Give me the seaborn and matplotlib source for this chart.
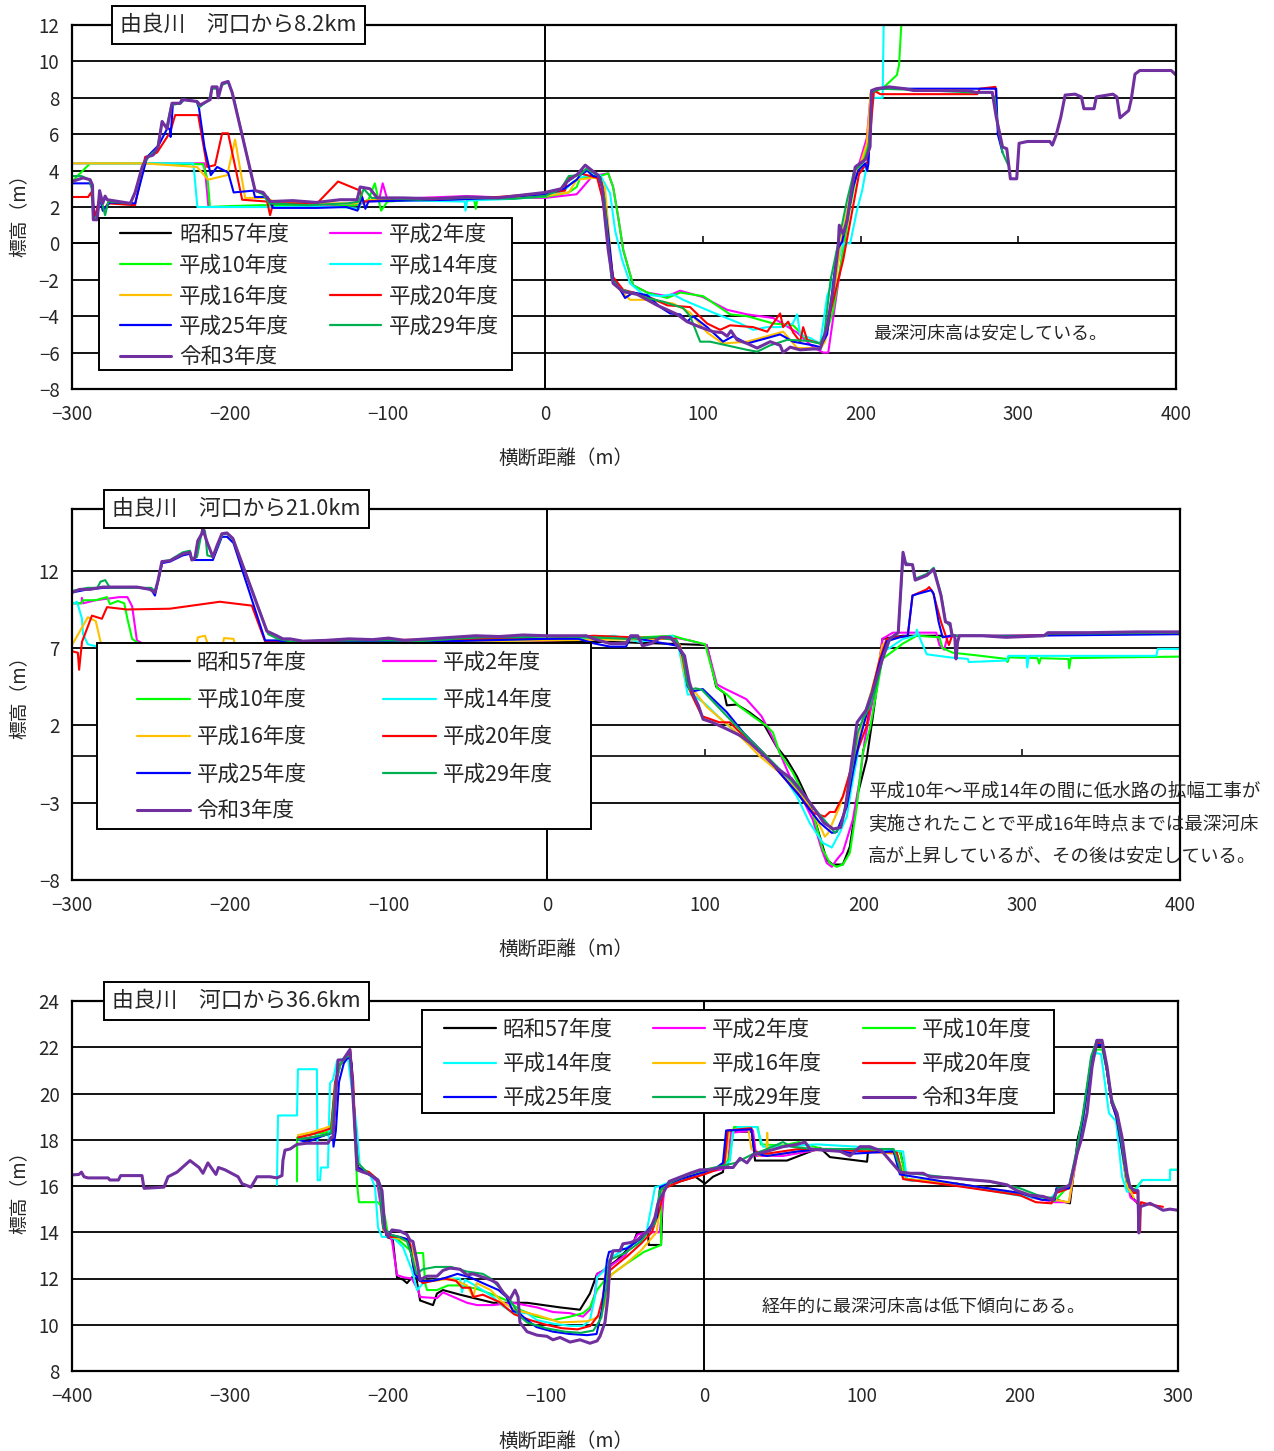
import matplotlib
matplotlib.use("Agg")
import matplotlib.pyplot as plt
from matplotlib.lines import Line2D
from matplotlib.patches import Rectangle
import pandas as pd
import seaborn as sns

# ---------------------------------------------------------------- series
SERIES = ["昭和57年度", "平成2年度", "平成10年度", "平成14年度", "平成16年度",
          "平成20年度", "平成25年度", "平成29年度", "令和3年度"]
COLORS = ["#000000", "#FF00FF", "#00FF00", "#00FFFF", "#FFC000",
          "#FF0000", "#0000FF", "#00B050", "#7030A0"]

# ---------------------------------------------------------------- 8.2 km
P1_S57 = []
P1_H2 = [(-300, 4.4), (-216, 4.4), (-213.5, 2.0), (-180, 2.0), (-150, 2.0), (-120, 2.1), (-105, 2.5),
         (-103, 3.3), (-100, 2.4), (-80, 2.5), (-50, 2.6), (-20, 2.5), (0, 2.5), (20, 2.7), (25, 3.2),
         (30, 3.7), (40, 3.85), (43.1, 3.1), (46.3, 1.45), (49.5, -0.35), (55.8, -2.3), (64.7, -2.7),
         (77.4, -2.9), (85.6, -2.6), (100, -2.95), (115.4, -3.65), (128.1, -3.9), (144.6, -4.1),
         (159.8, -4.9), (169.9, -5.7), (176.3, -6.0), (179.5, -6.0), (185.2, -2.55), (189, -0.35),
         (191.5, 1.45), (195.3, 3.1), (198.5, 4.2), (204, 5.8), (206.5, 8.3), (210, 8.4)]
P1_H10 = [(-300, 3.4), (-288.5, 4.4), (-250, 4.4), (-217, 4.35), (-214, 3.5), (-212.5, 2.0), (-200, 2.05),
          (-180, 2.1), (-160, 2.1), (-140, 2.0), (-120, 2.1), (-112, 2.4), (-108, 3.3), (-104, 1.8),
          (-100, 2.3), (-80, 2.4), (-60, 2.5), (-45, 2.4), (-44, 1.9), (-43, 2.45), (-20, 2.5), (0, 2.55),
          (15, 2.8), (20, 3.1), (22.2, 3.6), (34.9, 3.7), (40, 3.85), (43.1, 3.1), (46.3, 1.45),
          (49.5, -0.35), (55.8, -2.3), (64.7, -2.7), (77.4, -3.0), (85.6, -2.7), (100.2, -2.9),
          (117.3, -3.9), (128.1, -4.0), (144.6, -4.4), (157.3, -4.5), (166.1, -5.3), (174.4, -5.5),
          (177, -5.3), (182.6, -3.7), (189, -0.35), (193.4, 2.0), (197.8, 4.0), (201.6, 4.6), (205, 5.5),
          (206.5, 8.2), (215, 8.6), (223, 9.25), (224.4, 9.8), (225.7, 11.8), (226.5, 13.0)]
P1_H14 = [(-300, 4.4), (-223, 4.4), (-220.5, 2.0), (-175, 2.0), (-130, 2.0), (-118, 1.9), (-117, 2.3),
          (-100, 2.4), (-80, 2.35), (-51, 2.3), (-50.5, 1.8), (-49.5, 2.35), (-20, 2.45), (0, 2.6),
          (12, 2.9), (18, 3.4), (25, 3.7), (34.9, 3.75), (41.2, 2.75), (44.4, 0.7), (48.8, -0.9),
          (53.9, -2.2), (62.1, -2.8), (72.9, -2.9), (81.1, -2.8), (87.5, -3.1), (106.5, -3.8),
          (123.7, -4.4), (131.9, -4.75), (140.8, -4.6), (149, -4.6), (157, -4.4), (159.8, -3.9),
          (161.7, -5.0), (168, -5.2), (174.4, -5.5), (178.8, -2.9), (182.6, -2.0), (189, 0.0),
          (193.4, 0.0), (197.8, 1.85), (201, 2.9), (204.2, 4.4), (207, 8.0), (214, 8.0), (214.6, 11.8),
          (215, 13.0)]
P1_H16 = [(-300, 4.4), (-255, 4.4), (-220.7, 4.2), (-213.7, 3.5), (-201.6, 3.75), (-196.6, 5.7),
          (-190.2, 2.5), (-176.3, 2.5), (-172, 2.3), (-150, 2.2), (-120, 2.2), (-110, 2.4), (-90, 2.4),
          (-60, 2.5), (-30, 2.5), (0, 2.6), (15, 2.8), (20, 3.5), (30, 3.6), (35, 3.6), (38, 3.0),
          (40, 1.0), (43.1, -2.2), (53.9, -3.1), (64.7, -3.1), (81.1, -3.3), (91.9, -3.8),
          (102.7, -4.9), (112.8, -5.5), (128.1, -5.4), (140.8, -5.1), (150.9, -4.85), (155.4, -5.3),
          (159.8, -5.75), (168, -5.75), (174.4, -5.8), (177.5, -5.4), (184, -2.2), (188, 0.35),
          (192, 2.0), (196, 3.8), (200, 4.4), (204, 5.5), (206.5, 8.3), (208, 8.4)]
P1_H20 = [(-300, 2.55), (-289.8, 2.55), (-287.9, 2.8), (-285.4, 1.45), (-282.2, 2.65), (-280.3, 1.8),
          (-277.1, 2.2), (-260, 2.1), (-253.6, 4.75), (-249.2, 4.85), (-246, 5.0), (-237.8, 6.1),
          (-234.6, 7.05), (-220, 7.05), (-214.3, 4.2), (-209.3, 4.3), (-204.8, 6.05), (-201, 6.05),
          (-192.1, 2.4), (-176.3, 2.3), (-174.4, 1.55), (-172.5, 2.2), (-144.6, 2.2), (-131.3, 3.4),
          (-117.3, 2.9), (-115.4, 2.3), (-90, 2.4), (-60, 2.5), (-30, 2.55), (-3, 2.73), (12.6, 2.9),
          (14, 3.55), (22.2, 3.85), (33, 3.6), (36.1, 2.55), (39.3, 0.55), (43.1, -1.85), (49.5, -2.55),
          (64.7, -2.9), (77.4, -3.4), (91.9, -3.5), (102.7, -4.4), (111, -4.75), (117.3, -4.5),
          (131.9, -4.6), (140.8, -4.85), (149, -3.85), (150.9, -4.6), (154.1, -4.3), (157.3, -4.9),
          (161.7, -5.4), (163.6, -4.6), (166.1, -5.3), (174.4, -5.5), (177.5, -5.0), (183.6, -2.8),
          (189, -0.9), (194, 1.45), (199, 3.8), (204.6, 4.5), (208.5, 8.4), (212.5, 8.2), (274, 8.2),
          (275.6, 8.5), (285.5, 8.6), (286, 8.0)]
P1_H25 = [(-300, 3.3), (-288.5, 3.3), (-287, 3.0), (-286, 1.4), (-284, 1.4), (-282.5, 2.6), (-280.5, 1.8),
          (-276, 2.25), (-260, 2.2), (-252.4, 4.75), (-245, 5.4), (-239.7, 6.3), (-238, 6.3),
          (-237.5, 5.85), (-236, 7.7), (-231, 7.7), (-229, 7.9), (-221, 7.8), (-219.5, 7.45),
          (-216, 5.3), (-212, 3.75), (-208, 4.2), (-201, 3.9), (-197.5, 2.8), (-185, 2.9), (-184, 2.55),
          (-176, 2.55), (-172.5, 1.95), (-144.6, 1.95), (-126, 2.0), (-119, 1.8), (-116, 2.55),
          (-114, 1.9), (-112, 2.3), (-90, 2.35), (-60, 2.4), (-30, 2.5), (0, 2.7), (12, 3.0), (20, 3.5),
          (22.2, 3.75), (26.6, 4.0), (30.4, 3.7), (34.9, 3.65), (36.8, 2.9), (40, 0.55), (43.1, -2.0),
          (47.6, -2.55), (50.7, -3.0), (55.8, -2.7), (64.7, -2.85), (72.9, -3.5), (79.3, -3.85),
          (85.6, -3.9), (90, -4.3), (93.8, -4.0), (102.7, -4.6), (112.8, -5.4), (119.2, -5.1),
          (128.1, -5.5), (140.8, -5.2), (149, -5.0), (157.3, -5.4), (169.9, -5.6), (174.4, -5.7),
          (178.8, -5.0), (185.2, -0.35), (188.3, 0.1), (191.5, 1.3), (195.3, 3.1), (198.5, 4.0),
          (202.9, 4.4), (204.2, 4.0), (205, 4.4), (207, 8.4), (212, 8.5), (270, 8.5), (286, 8.5),
          (287, 6.0), (290, 5.0)]
P1_H29 = [(-300, 3.7), (-294, 3.7), (-289, 3.5), (-287.5, 3.0), (-286.5, 1.3), (-284, 1.5), (-282, 2.6),
          (-279, 1.55), (-277, 2.3), (-263, 2.2), (-259, 3.0), (-255, 4.3), (-251, 4.8), (-246, 5.2),
          (-243, 6.6), (-240, 6.4), (-237, 7.6), (-231, 7.7), (-229, 7.9), (-221, 7.8), (-219, 7.5),
          (-213, 7.9), (-211.5, 8.5), (-208, 8.5), (-207.5, 8.1), (-205, 8.7), (-201, 8.85), (-198, 8.2),
          (-184, 2.9), (-179, 2.7), (-175, 2.2), (-150, 2.1), (-125, 2.2), (-118, 2.3), (-115, 3.0),
          (-110, 2.5), (-80, 2.4), (-50, 2.5), (-20, 2.45), (0, 2.6), (10, 3.0), (15, 3.7), (22, 3.75),
          (26, 4.1), (32, 3.8), (35, 3.6), (37.5, 2.5), (39.5, 0.5), (42, -1.9), (47, -2.5),
          (58.3, -2.8), (64.7, -3.0), (74.8, -3.2), (87.5, -3.55), (91.9, -4.0), (98.3, -5.4),
          (104.6, -5.4), (128.1, -5.85), (134.4, -5.95), (142.7, -5.6), (153.5, -5.3), (166.1, -5.35),
          (174.4, -5.5), (177, -5.0), (181, -2.0), (187.1, 0.55), (191.5, 2.4), (196, 4.0), (201, 4.4),
          (204, 4.8), (206, 6.0), (207, 8.3), (212, 8.5), (230, 8.45), (270, 8.3), (283, 8.3),
          (285, 8.0), (287, 6.5), (290, 5.0), (293.6, 4.3)]
P1_R3 = [(-300, 3.4), (-293, 3.6), (-288.5, 3.5), (-287, 3.2), (-286.5, 1.3), (-284, 1.3), (-282.5, 2.9),
         (-280.5, 2.2), (-279, 2.6), (-277.7, 2.4), (-263, 2.2), (-260, 2.8), (-255.5, 4.2),
         (-252.4, 4.75), (-248.6, 4.85), (-245.4, 5.3), (-242.9, 6.7), (-239.7, 6.3), (-236.6, 7.7),
         (-231.5, 7.7), (-230.3, 7.9), (-220.7, 7.8), (-218.8, 7.6), (-212.4, 7.9), (-211.2, 8.6),
         (-208, 8.6), (-207.3, 8.0), (-204.8, 8.8), (-201, 8.9), (-198.5, 8.3), (-183.9, 2.9),
         (-178.8, 2.8), (-174.4, 2.3), (-160, 2.35), (-145, 2.25), (-130, 2.4), (-119.2, 2.4),
         (-117.3, 3.1), (-111, 3.0), (-106.5, 2.5), (-90, 2.5), (-70, 2.45), (-50, 2.55), (-30, 2.5),
         (-10, 2.7), (0, 2.8), (10, 3.0), (14, 3.4), (20.5, 3.8), (25.4, 4.3), (29.8, 4.0), (33.6, 3.75),
         (36.1, 3.1), (38, 1.3), (40, -0.35), (43.1, -2.2), (49.5, -2.65), (58.3, -2.8), (64.7, -3.1),
         (71, -3.4), (77.4, -3.65), (83.7, -3.9), (90, -4.3), (98.3, -4.6), (106.5, -4.85),
         (112.2, -4.9), (115.4, -5.1), (117.8, -4.8), (121.7, -5.3), (128.1, -5.5), (134.4, -5.75),
         (142.7, -5.4), (149, -5.6), (150.9, -6.0), (155.4, -5.7), (161.7, -5.85), (169.9, -5.8),
         (174.4, -5.8), (178.8, -4.6), (182.6, -2.55), (185.8, -0.2), (186.5, 1.0), (189, 0.5),
         (191.5, 1.3), (193.4, 2.4), (196.6, 4.2), (199.7, 4.4), (203, 4.6), (206, 5.3), (207, 8.4),
         (210, 8.5), (218, 8.6), (228, 8.5), (233.5, 8.4), (268, 8.4), (273, 8.3), (283.5, 8.3),
         (286, 6.95), (290, 5.3), (292.7, 5.2), (295, 3.55), (299, 3.55), (300.5, 5.5), (305.8, 5.6),
         (320, 5.6), (321.6, 5.4), (324, 5.95), (327, 6.95), (329.7, 8.15), (336, 8.2), (340, 8.05),
         (341.6, 7.4), (348, 7.4), (349.5, 8.05), (360, 8.2), (362.5, 8.05), (364.5, 6.9), (370, 7.3),
         (371.6, 7.9), (374, 9.3), (377, 9.5), (397, 9.5), (400, 9.25)]

# ---------------------------------------------------------------- 21.0 km
P2_S57 = [(-160, 7.3), (-100, 7.35), (-50, 7.4), (0, 7.4), (40, 7.4), (84, 7.26), (101, 7.2), (107, 4.5),
          (112, 4.1), (113.7, 3.3), (120, 3.35), (128, 2.85), (136.4, 2.2), (145, 0.65), (151.6, -0.2),
          (158, -1.3), (164, -2.6), (168, -3.65), (172.5, -5.2), (176.8, -6.7), (180.7, -7.0),
          (187, -7.0), (191.4, -5.85), (196.5, -2.4), (202, -0.2), (206, 2.6), (208.5, 4.5),
          (212, 7.6), (225, 7.8), (250, 7.8)]
P2_H2 = [(-300, 9.9), (-294, 9.9), (-293.7, 10.25), (-293, 9.9), (-285, 10.1), (-270, 10.3), (-265, 10.3),
         (-262, 9.7), (-259, 7.5), (-250, 7.0), (-200, 7.0), (-150, 7.2), (-100, 7.3), (-50, 7.4),
         (0, 7.5), (40, 7.6), (79.6, 7.7), (90, 7.5), (101, 7.2), (107.4, 4.66), (111, 4.45),
         (126, 3.7), (135.6, 2.6), (141, 1.55), (147, 0.25), (153.5, -1.3), (161.7, -2.8),
         (168, -4.1), (173.7, -6.05), (176.8, -6.9), (180, -7.15), (183, -6.7), (187, -6.2),
         (193.3, -4.1), (197.7, -1.5), (200.9, 1.1), (206, 3.7), (209, 5.2), (212, 7.6), (218.6, 8.0),
         (246, 8.0), (248, 7.2), (251, 6.9), (253, 7.7), (258, 7.8)]
P2_H10 = [(-300, 9.9), (-294, 9.9), (-293, 10.1), (-285, 10.1), (-277.9, 10.3), (-276, 9.85),
          (-271, 10.05), (-267, 9.9), (-265, 8.9), (-262, 7.6), (-255, 7.1), (-240, 7.0), (-200, 7.0),
          (-160, 7.2), (-120, 7.3), (-80, 7.4), (-40, 7.5), (0, 7.55), (40, 7.6), (79.6, 7.8),
          (86, 7.6), (100, 7.25), (107.4, 4.45), (113.7, 4.0), (122, 3.2), (130, 2.6), (139, 1.95),
          (142.8, 1.55), (147, 0.25), (155.4, -1.05), (161.7, -2.35), (168, -3.65), (174.4, -6.05),
          (178.8, -6.9), (183, -7.15), (187, -7.0), (191.4, -6.25), (195.8, -3.25), (199.6, 0.25),
          (204, 1.75), (212, 6.3), (218.6, 6.8), (225, 7.3), (233.7, 7.8), (248, 7.7), (250, 7.0),
          (256.5, 6.7), (270, 6.55), (290.6, 6.3), (291, 6.1), (292, 6.4), (310, 6.35), (311, 6.0),
          (312, 6.35), (329.5, 6.3), (330, 5.7), (331, 6.35), (360, 6.4), (400, 6.45)]
P2_H14 = [(-300, 9.85), (-296.8, 10.0), (-293.7, 8.9), (-293, 7.9), (-290, 7.25), (-280, 7.0),
          (-240, 6.9), (-200, 6.9), (-160, 7.1), (-120, 7.2), (-80, 7.3), (-40, 7.4), (0, 7.55),
          (42.7, 7.8), (58.7, 7.4), (79.6, 7.8), (82.8, 7.3), (86, 5.6), (89, 4.0), (92, 4.0),
          (100, 3.4), (110, 2.4), (122, 1.3), (134.6, 0.45), (147, -0.85), (158, -2.6), (166, -4.3),
          (174.4, -5.6), (180, -5.9), (185, -4.95), (189.5, -3.9), (192.5, -2.0), (195.8, -0.2),
          (199.6, 2.4), (206, 4.5), (212, 6.7), (225, 7.6), (233, 7.8), (233.7, 8.2), (235, 7.8),
          (240, 6.6), (254.6, 6.4), (266, 6.3), (266.5, 6.1), (290.6, 6.2), (291.5, 6.5), (303, 6.5),
          (303.5, 5.75), (304.5, 6.5), (385, 6.5), (386, 6.95), (400, 6.95)]
P2_H16 = [(-300, 7.2), (-290, 9.0), (-285, 8.75), (-281, 7.0), (-270, 6.8), (-222, 6.8), (-220.5, 7.7),
          (-216, 7.8), (-213, 6.9), (-205, 7.0), (-204, 7.65), (-198, 7.6), (-196, 6.9), (-160, 7.0),
          (-120, 7.2), (-80, 7.35), (-40, 7.45), (0, 7.5), (40, 7.55), (80, 7.6), (84, 7.2), (86, 5.8),
          (88.4, 4.8), (94.8, 4.0), (101, 3.2), (117.5, 1.75), (126, 0.9), (134.6, 0.0), (147, -1.05),
          (160, -2.35), (168, -3.65), (173.7, -4.75), (175.6, -5.2), (177.5, -5.0), (180.7, -4.25),
          (185, -3.25), (193.3, -0.6), (198, 1.5), (203, 3.5), (208, 5.3), (212, 7.2), (216, 7.6)]
P2_H20 = [(-300, 6.8), (-296.3, 6.7), (-295.5, 5.6), (-293.7, 7.4), (-287.4, 9.1), (-281.1, 8.9),
          (-277.9, 9.65), (-265.3, 9.5), (-238.2, 9.55), (-206.6, 10.0), (-186.4, 9.75), (-178.1, 7.45),
          (-160, 7.4), (-120, 7.5), (-80, 7.55), (-40, 7.6), (0, 7.6), (29.5, 7.8), (54.5, 7.7),
          (81, 7.6), (84, 7.15), (86, 6.3), (89, 4.55), (93.5, 3.55), (98, 2.6), (109, 2.2),
          (115.6, 2.2), (122, 1.55), (130, 0.9), (139, 0.0), (147, -1.05), (160, -2.6), (168, -3.65),
          (175.6, -3.9), (178.8, -3.6), (182, -3.6), (187, -2.6), (191.4, -1.05), (195.8, 0.25),
          (202, 1.95), (206, 4.5), (210.4, 6.3), (214.8, 7.6), (221, 7.7), (228, 7.8), (231, 10.4),
          (240, 10.8), (241.5, 10.95), (244, 10.6), (249, 8.7), (252, 7.8), (254, 7.2), (256, 7.8),
          (260.6, 7.8), (290, 7.8), (320, 7.85), (350, 7.9), (400, 7.95)]
P2_H25 = [(-300, 10.6), (-290, 10.8), (-280, 10.9), (-260, 10.95), (-250, 10.8), (-247.6, 10.4),
          (-245.7, 11.3), (-243, 12.5), (-238, 12.6), (-230, 13.0), (-225.5, 13.1), (-224.3, 12.7),
          (-211, 12.7), (-205.3, 14.2), (-202, 14.2), (-198, 13.8), (-178, 7.5), (-170, 7.5),
          (-160, 7.3), (-120, 7.4), (-80, 7.4), (-40, 7.5), (0, 7.6), (20, 7.6), (30, 7.3), (39.8, 7.1),
          (50, 7.1), (53, 7.7), (82.5, 7.15), (87, 6.3), (89, 4.55), (92, 4.2), (98.5, 4.35),
          (113.7, 2.85), (124, 1.55), (136.4, 0.25), (147, -1.05), (158, -2.35), (166, -3.45),
          (172.5, -4.3), (180, -4.95), (183, -4.9), (189.5, -3.25), (193.3, -1.05), (197.7, 1.1),
          (204, 3.5), (210.4, 6.1), (214.8, 7.45), (223, 7.7), (228, 7.8), (231, 10.4), (234, 10.5),
          (242.8, 10.75), (244.4, 10.5), (247.5, 8.7), (250, 7.7), (254.7, 7.8), (300, 7.8),
          (350, 7.85), (400, 7.9)]
P2_H29 = [(-300, 10.7), (-290, 10.9), (-284, 10.9), (-282, 11.3), (-279, 11.4), (-276, 10.9), (-260, 10.9),
          (-250, 10.9), (-247.6, 10.7), (-245.5, 11.4), (-243, 12.6), (-238, 12.7), (-230, 13.2),
          (-225.5, 13.3), (-224.5, 12.8), (-221, 12.9), (-219, 14.0), (-217.5, 14.7), (-216, 14.6),
          (-214.5, 13.0), (-211, 12.9), (-208, 13.6), (-205, 14.35), (-202, 14.4), (-198, 14.0),
          (-176, 7.9), (-170, 7.6), (-160, 7.4), (-140, 7.5), (-120, 7.5), (-100, 7.5), (-80, 7.45),
          (-60, 7.6), (-40, 7.7), (-20, 7.7), (0, 7.75), (30, 7.7), (50, 7.6), (70, 7.7), (82, 7.5),
          (86, 6.5), (88.4, 4.8), (90.3, 4.3), (94, 4.4), (98, 4.3), (113.7, 2.6), (128, 1.1),
          (142.8, -0.4), (155.4, -1.7), (168, -3.25), (176.8, -4.3), (182, -4.95), (186, -4.5),
          (190, -2.5), (196.5, 1.55), (199.6, 2.4), (204, 3.2), (208, 4.5), (212, 6.3), (217, 7.6),
          (222, 8.0), (225, 12.8), (227, 12.5), (231, 12.4), (233, 11.5), (240, 11.8), (244.4, 12.2),
          (249, 10.5), (252, 8.7), (255, 8.4), (256.5, 7.8), (270, 7.8), (300, 7.75), (315, 7.8),
          (317, 7.95), (350, 7.95), (400, 8.0)]
P2_R3 = [(-300, 10.6), (-295, 10.8), (-288.7, 10.8), (-280.5, 10.95), (-269.7, 10.95), (-259, 10.95),
         (-250.8, 10.8), (-247.6, 10.6), (-245.7, 11.35), (-243.2, 12.6), (-238.1, 12.65),
         (-229.9, 13.1), (-225.5, 13.2), (-224.3, 12.7), (-222.4, 12.8), (-220.5, 13.95), (-218, 14.4),
         (-217.3, 14.7), (-214.8, 13.9), (-211, 12.9), (-208.5, 13.6), (-205.3, 14.4), (-202.1, 14.45),
         (-198.4, 14.1), (-176.9, 8.1), (-170.6, 7.8), (-166.8, 7.6), (-162.3, 7.6), (-154.1, 7.45),
         (-140, 7.5), (-125, 7.6), (-110, 7.55), (-100, 7.65), (-90, 7.5), (-75, 7.6), (-60, 7.7),
         (-45, 7.8), (-30, 7.75), (-15, 7.85), (0, 7.8), (25, 7.8), (29.5, 7.6), (39.8, 7.3), (50, 7.3),
         (53, 7.8), (57.4, 7.8), (60.4, 7.15), (66, 7.3), (72, 7.7), (78, 7.7), (82.5, 7.15), (87, 6.5),
         (90, 4.8), (92.8, 3.9), (95.7, 3.3), (98.7, 2.4), (104.5, 2.2), (113, 1.8), (122, 1.35),
         (128, 0.9), (137, 0.05), (145.8, -0.8), (154.6, -1.45), (163, -2.55), (169, -3.4), (175, -4.3),
         (181, -4.7), (185.5, -4.6), (188.5, -3.4), (191.4, -1.25), (196, 2.2), (201.7, 3.0),
         (206, 4.3), (212, 6.3), (216.5, 7.6), (222, 8.0), (225, 13.2), (226.8, 12.4), (231, 12.4),
         (232.7, 11.4), (240, 11.7), (244.4, 12.1), (249, 10.4), (251.8, 8.7), (254.7, 8.6), (256, 7.8),
         (257.7, 7.8), (258.5, 6.3), (259.5, 7.4), (260.6, 7.8), (275, 7.8), (290, 7.7), (314, 7.8),
         (316.6, 8.0), (343, 8.0), (373, 8.05), (400, 8.05)]

# ---------------------------------------------------------------- 36.6 km
P3_S57 = [(-257, 18.0), (-240, 18.2), (-236, 18.3), (-233, 20.5), (-230, 21.3), (-226, 21.6), (-224, 21.8),
          (-222, 20.0), (-220, 17.5), (-218, 16.7), (-212, 16.5), (-207, 16.3), (-204, 15.5),
          (-201, 13.8), (-197, 13.7), (-194.3, 12.05), (-190.5, 11.95), (-188, 11.8), (-184.8, 12.05),
          (-182, 12.0), (-179.7, 11.05), (-171.5, 10.85), (-169, 11.35), (-165.2, 11.5), (-154.4, 11.3),
          (-133.5, 10.95), (-112, 10.95), (-91.1, 10.75), (-78.5, 10.65), (-72.2, 11.35),
          (-67.7, 12.2), (-64.6, 12.3), (-55, 12.8), (-45, 13.5), (-42.4, 13.97), (-35.4, 13.97),
          (-35, 13.45), (-27.2, 13.45), (-25.9, 15.95), (-15, 16.2), (-5.7, 16.4), (-4.4, 16.35),
          (0.6, 16.1), (5.7, 16.4), (12, 16.6), (14.6, 18.35), (30.4, 18.35), (32.3, 17.1),
          (52.5, 17.1), (73.4, 17.65), (79.7, 17.25), (103.2, 17.05), (103.8, 17.5), (124.1, 17.5),
          (128.5, 16.26), (160.1, 16.1), (200, 15.65), (223.4, 15.4), (231.6, 15.25), (236.7, 18.1),
          (240, 19.0), (245, 21.3), (248.5, 22.2), (252, 22.2), (255, 21.0), (258, 19.6), (261, 19.1),
          (264, 18.0), (267, 16.5), (270, 15.6), (275, 15.2)]
P3_H2 = [(-257, 18.0), (-240, 18.2), (-236, 18.4), (-233, 20.5), (-230, 21.3), (-226, 21.6), (-224, 21.8),
         (-222, 20.0), (-220, 17.5), (-218, 16.7), (-212, 16.5), (-207, 16.2), (-205, 15.3),
         (-203, 14.1), (-199, 13.8), (-197.5, 13.65), (-194.3, 12.15), (-190, 12.05), (-185, 12.0),
         (-180.9, 11.5), (-179.7, 11.2), (-169, 11.15), (-165.2, 11.4), (-150, 10.95), (-143.7, 10.85),
         (-133.5, 10.85), (-120.9, 10.95), (-105.7, 10.75), (-95.6, 10.55), (-84.8, 10.5),
         (-76.6, 10.35), (-72.2, 10.65), (-69, 11.35), (-67.7, 12.2), (-62, 12.4), (-50, 13.0),
         (-42, 13.9), (-36, 14.0), (-28, 14.0), (-25, 15.9), (-15, 16.3), (0, 16.6), (10, 16.7),
         (15, 16.8), (17, 18.3), (31, 18.4), (33, 17.3), (50, 17.3), (75, 17.6), (100, 17.5),
         (122, 17.4), (127, 16.3), (160, 16.1), (200, 15.6), (222, 15.3), (231, 15.3), (236, 17.3),
         (240, 18.9), (245, 21.5), (248.5, 22.2), (252, 22.2), (255, 21.0), (258, 19.6), (261, 19.0),
         (264, 17.8), (267, 16.3), (270, 15.5), (274, 15.3)]
P3_H10 = [(-257.6, 16.2), (-257.5, 18.1), (-254.5, 18.1), (-252, 18.2), (-240, 18.3), (-236, 18.4),
          (-233, 20.5), (-230, 21.3), (-226, 21.5), (-224, 21.6), (-222, 20.0), (-221, 18.4),
          (-219.6, 16.1), (-218.4, 15.3), (-206.3, 15.3), (-203.8, 15.1), (-201.9, 14.65), (-200, 13.9),
          (-194, 13.7), (-190.5, 13.5), (-184.2, 13.1), (-177.8, 13.1), (-176.5, 11.8), (-175.3, 11.5),
          (-169, 11.5), (-162, 11.7), (-154.4, 11.7), (-143.7, 11.55), (-133.5, 11.3), (-124.7, 11.05),
          (-116.5, 10.65), (-105.7, 10.35), (-95.6, 10.2), (-84.8, 10.35), (-76.6, 10.5),
          (-72.2, 10.75), (-67.7, 11.5), (-62, 12.0), (-50, 12.6), (-38, 13.15), (-27.2, 13.45),
          (-27, 15.95), (-15, 16.3), (0, 16.6), (12, 16.8), (16, 17.2), (19, 18.55), (34, 18.55),
          (36, 17.8), (50, 17.75), (60, 17.9), (75, 17.6), (100, 17.6), (124, 17.5), (128, 16.3),
          (160, 16.1), (200, 15.6), (222, 15.35), (228, 15.8), (232, 16.0), (236, 17.5), (240, 19.0),
          (245, 21.2), (248.5, 21.9), (252, 21.9), (255, 21.0), (258, 19.6), (261, 19.0), (264, 17.8),
          (268, 15.9), (272, 15.8), (277.5, 16.26), (294.9, 16.26), (295, 16.7), (300, 16.7)]
P3_H14 = [(-270.3, 16.05), (-269.6, 19.05), (-257.6, 19.05), (-257, 21.05), (-245, 21.05), (-244.5, 16.25),
          (-243, 16.25), (-242.4, 16.8), (-238, 16.8), (-236.7, 20.45), (-234.8, 20.6), (-232.3, 21.4),
          (-228.5, 21.5), (-225.3, 21.5), (-222.2, 19.8), (-219.6, 18.4), (-217.7, 16.7), (-211.4, 16.5),
          (-208.2, 15.95), (-206.3, 14.2), (-203.8, 13.8), (-198.7, 13.8), (-195.6, 13.7),
          (-190.5, 13.35), (-184.8, 12.35), (-181.6, 11.5), (-177.8, 11.8), (-173.4, 11.9),
          (-165.2, 12.0), (-154.4, 12.0), (-153.2, 11.4), (-151.3, 11.95), (-143.7, 11.65),
          (-133.5, 11.2), (-127.2, 10.8), (-120.9, 10.5), (-112, 10.5), (-105.7, 10.2), (-95.6, 10.05),
          (-84.8, 9.95), (-76.6, 9.95), (-72.2, 10.2), (-69, 11.2), (-67.7, 12.05), (-63.9, 12.3),
          (-57.6, 12.95), (-48.7, 13.35), (-40.5, 13.65), (-36.1, 14.1), (-32.9, 15.25), (-31, 15.95),
          (-27.8, 16.0), (-10, 16.5), (2, 16.7), (12, 16.85), (16.5, 17.1), (18.4, 18.35), (21.5, 18.55),
          (33.5, 18.55), (35.4, 18.1), (37.3, 17.7), (50, 17.7), (71.5, 17.8), (96.8, 17.7),
          (117.7, 17.5), (126, 17.5), (128.5, 16.26), (138.6, 16.2), (160, 16.05), (181, 15.8),
          (198.1, 15.6), (214.6, 15.45), (219, 15.4), (223.4, 15.8), (231.6, 15.95), (236, 17.5),
          (240, 19.0), (245.6, 21.6), (248.7, 21.75), (251.3, 21.7), (256.3, 19.15), (260.8, 18.8),
          (264.6, 16.4), (267.7, 15.75), (273, 15.8), (277.5, 16.26), (294.9, 16.26), (295, 16.7),
          (300, 16.7)]
P3_H16 = [(-257, 18.2), (-250, 18.3), (-240, 18.5), (-236, 18.6), (-233, 20.5), (-230, 21.3), (-226, 21.5),
          (-224, 21.7), (-222, 20.0), (-220, 17.5), (-218, 16.7), (-212, 16.6), (-207, 16.3),
          (-205, 15.8), (-203, 14.1), (-198, 13.8), (-192, 13.7), (-188, 13.6), (-185, 13.4),
          (-182, 12.2), (-180, 11.9), (-170, 11.9), (-160, 12.0), (-150, 11.7), (-146, 11.2),
          (-144, 11.8), (-135, 11.5), (-128, 11.0), (-120, 10.65), (-105, 10.4), (-91.1, 10.1),
          (-74.1, 10.15), (-65.8, 10.35), (-62.7, 10.9), (-61.4, 11.8), (-58, 12.2), (-50, 12.6),
          (-40, 13.2), (-30, 14.0), (-27, 15.5), (-25, 16.0), (-15, 16.3), (0, 16.6), (10, 16.8),
          (14, 17.2), (16, 18.4), (28, 18.5), (30, 17.6), (35, 17.3), (39.5, 17.4), (40, 18.3),
          (40.5, 17.3), (60, 17.5), (80, 17.6), (100, 17.5), (122, 17.4), (127, 16.3), (160, 16.1),
          (200, 15.7), (222, 15.4), (231, 15.3), (236, 17.4), (240, 19.0), (245, 21.4), (248.5, 22.1),
          (252, 22.1), (255, 21.0), (258, 19.6), (261, 19.0), (264, 17.8), (268, 16.0), (272, 15.5)]
P3_H20 = [(-257, 18.1), (-250, 18.2), (-240, 18.4), (-236, 18.5), (-233.5, 20.5), (-231, 21.2),
          (-227, 21.5), (-224, 21.9), (-222, 20.5), (-220.5, 18.0), (-219, 16.8), (-212, 16.6),
          (-207, 16.3), (-205, 15.8), (-203, 14.2), (-199, 13.8), (-193, 13.8), (-188, 13.7),
          (-186, 13.5), (-184, 12.5), (-181, 12.0), (-178, 11.8), (-165, 12.0), (-157, 11.9),
          (-153, 11.6), (-148, 11.6), (-146, 11.2), (-140, 11.3), (-130, 11.0), (-120, 10.45),
          (-110, 10.2), (-100, 10.0), (-90, 9.85), (-80, 9.8), (-72, 9.95), (-67, 10.4), (-64, 11.2),
          (-62, 12.2), (-57, 12.5), (-48, 13.0), (-40, 13.5), (-33, 14.0), (-28, 15.0), (-25, 15.9),
          (-15, 16.2), (0, 16.5), (8, 16.7), (13, 17.0), (15, 18.4), (30, 18.5), (32, 17.5), (40, 17.4),
          (60, 17.6), (80, 17.6), (100, 17.5), (122, 17.45), (126, 16.3), (160, 16.0), (200, 15.6),
          (210, 15.3), (220, 15.25), (223, 15.7), (231, 15.9), (236, 17.5), (240, 19.1), (245, 21.4),
          (248.5, 22.2), (252, 22.2), (255, 21.1), (258, 19.7), (261, 19.0), (264, 17.8), (268, 16.2),
          (272, 15.7), (274.5, 15.7), (275, 14.0), (276, 14.0), (276.5, 15.3), (282, 15.2),
          (290.5, 15.1)]
P3_H25 = [(-257, 18.0), (-251, 17.9), (-240, 18.2), (-234.8, 18.3), (-234.5, 17.7), (-233, 18.4),
          (-231, 20.5), (-228, 21.3), (-225, 21.6), (-223, 21.3), (-221, 18.5), (-219, 16.8),
          (-212, 16.5), (-207, 16.3), (-205, 15.8), (-203, 14.2), (-199, 13.9), (-193, 13.8),
          (-188, 13.7), (-186, 13.3), (-183, 12.2), (-180, 11.9), (-172, 11.9), (-165, 12.0),
          (-156, 12.2), (-148, 12.05), (-140, 11.8), (-130, 11.5), (-125, 11.2), (-121, 10.6),
          (-117, 10.5), (-112, 10.2), (-106, 9.9), (-95.6, 9.7), (-84.8, 9.6), (-74, 9.55), (-68, 9.6),
          (-64.6, 10.65), (-61.4, 12.8), (-60.1, 13.15), (-48.7, 13.3), (-38.6, 13.8), (-29.7, 14.65),
          (-27.8, 15.95), (-15, 16.3), (0, 16.6), (8, 16.8), (12, 17.0), (14, 18.4), (30, 18.45),
          (32, 17.4), (40, 17.3), (60, 17.5), (78, 17.6), (95, 17.4), (120, 17.5), (124, 16.5),
          (160, 16.1), (200, 15.7), (214, 15.4), (222, 15.4), (223, 15.9), (231, 15.9), (236, 17.4),
          (240, 19.0), (245, 21.3), (248.5, 22.1), (252, 22.1), (255, 21.0), (258, 19.6), (261, 19.0),
          (264, 17.8), (268, 16.2)]
P3_H29 = [(-257, 18.0), (-240, 18.2), (-236, 18.3), (-233, 20.5), (-230, 21.3), (-226, 21.6), (-224, 21.6),
          (-222, 20.0), (-220.5, 18.0), (-219, 17.0), (-212, 16.5), (-207, 16.3), (-205, 15.8),
          (-203, 14.2), (-199, 13.9), (-193, 13.8), (-188, 13.6), (-185, 13.0), (-182, 12.2),
          (-178, 12.4), (-170, 12.5), (-160, 12.5), (-150, 12.3), (-140, 12.2), (-135, 12.0),
          (-128, 11.5), (-122, 11.0), (-117, 10.4), (-112, 10.1), (-100, 9.85), (-88, 9.7), (-78, 9.65),
          (-70, 9.75), (-65, 10.3), (-62, 11.5), (-60, 12.8), (-50, 13.1), (-40, 13.6), (-31, 14.4),
          (-28, 15.8), (-20, 16.2), (-10, 16.5), (0, 16.7), (10, 16.85), (20, 17.0), (30, 17.35),
          (40, 17.6), (50, 17.9), (55, 17.7), (70, 17.6), (90, 17.6), (110, 17.6), (120, 17.6),
          (125, 16.6), (150, 16.4), (180, 16.2), (200, 15.9), (215, 15.5), (222, 15.5), (224, 15.9),
          (231, 16.0), (236, 17.6), (240, 19.2), (245, 21.6), (248.5, 22.3), (252, 22.2), (255, 21.1),
          (258, 19.8), (261, 19.2), (264, 18.0), (268, 16.2), (272, 15.8)]
P3_R3 = [(-400, 16.48), (-395.6, 16.5), (-394, 16.6), (-392.4, 16.4), (-389.9, 16.35), (-377.2, 16.35),
         (-376, 16.26), (-370.6, 16.26), (-369.2, 16.45), (-355.7, 16.45), (-354.4, 15.9),
         (-341.8, 15.95), (-339.2, 16.4), (-333.5, 16.6), (-325.3, 17.1), (-319.6, 16.8),
         (-317.1, 16.55), (-314, 17.0), (-308.9, 16.5), (-307.3, 16.8), (-303.2, 16.7), (-294.9, 16.4),
         (-292.4, 16.1), (-286.7, 15.95), (-282.9, 16.4), (-274.7, 16.4), (-270.3, 16.35),
         (-267.1, 16.45), (-266.5, 17.1), (-265.2, 17.55), (-262, 17.6), (-257.6, 17.8),
         (-251.3, 17.85), (-238, 17.85), (-236, 18.1), (-234.8, 18.1), (-231.6, 21.45), (-228.5, 21.45),
         (-224.1, 21.9), (-222.8, 20.6), (-220.9, 18.4), (-219.6, 16.7), (-215.8, 16.6), (-211.4, 16.5),
         (-209.5, 16.4), (-206.3, 16.26), (-203.8, 15.8), (-201.9, 14.1), (-200, 13.8), (-197.5, 14.1),
         (-192.4, 14.05), (-188, 13.9), (-186, 13.65), (-184.2, 13.6), (-181.6, 12.7), (-179.7, 11.95),
         (-175.3, 12.1), (-169, 12.1), (-165.2, 12.35), (-160.8, 12.45), (-154.4, 12.4), (-150, 12.15),
         (-146.2, 12.2), (-141.8, 12.1), (-135.4, 11.95), (-131, 11.8), (-127.2, 11.4), (-122.8, 11.1),
         (-119.6, 11.5), (-117.7, 11.2), (-116.5, 10.1), (-112, 9.7), (-105.7, 9.55), (-99.4, 9.5),
         (-95.6, 9.35), (-91.1, 9.45), (-84.8, 9.25), (-78.5, 9.35), (-72.2, 9.2), (-67.7, 9.3),
         (-65.8, 9.5), (-62.7, 10.1), (-60.8, 11.2), (-59.5, 12.7), (-57.6, 13.2), (-53.2, 13.2),
         (-51.3, 13.5), (-46.8, 13.55), (-42.4, 13.65), (-38.6, 13.9), (-34.2, 14.1), (-31, 14.65),
         (-29.1, 15.25), (-22, 16.2), (-8.9, 16.55), (-2.5, 16.7), (3.8, 16.7), (10.1, 16.8),
         (18.4, 16.8), (22.8, 17.2), (27.2, 17.0), (31, 17.35), (39.9, 17.5), (50, 17.7), (58.9, 17.8),
         (63.9, 17.9), (67.1, 17.6), (75.3, 17.55), (86.1, 17.5), (92.4, 17.3), (98.7, 17.7),
         (105, 17.7), (112.7, 17.5), (117.7, 17.1), (124.1, 16.6), (130.4, 16.55), (138.6, 16.55),
         (143, 16.4), (155.7, 16.35), (170.3, 16.26), (181, 16.2), (191.8, 16.05), (198.1, 15.8),
         (206.3, 15.6), (214.6, 15.55), (220.9, 15.4), (223.4, 15.8), (227.2, 15.9), (231.6, 16.05),
         (236.1, 17.4), (239.2, 18.1), (242.4, 19.15), (245.6, 21.15), (248.7, 22.3), (251.9, 22.3),
         (255.1, 21.15), (258.2, 19.6), (261.4, 19.15), (264.6, 18.1), (267.7, 16.55), (269.6, 15.95),
         (272.8, 15.8), (274.7, 15.8), (275.2, 13.97), (275.9, 15.1), (282.3, 15.25), (286.7, 15.1),
         (290.5, 14.95), (294.9, 15.0), (300, 14.95)]

# ---------------------------------------------------------------- panels
PANELS = [
    dict(title="由良川　河口から8.2km",
         data=[P1_S57, P1_H2, P1_H10, P1_H14, P1_H16, P1_H20, P1_H25, P1_H29, P1_R3],
         rect=[72, 25, 1176, 389], xlim=(-300, 400), ylim=(-8, 12),
         xticks=list(range(-300, 401, 100)), yticks=list(range(-8, 13, 2)),
         zero_ticks=[-200, -100, 100, 200, 300], title_x=120,
         legend=dict(order=[0, 2, 4, 6, 8, 1, 3, 5, 7], ncol=2, anchor_px=(120, 224),
                     box_px=(99, 218, 512, 370), handlelength=2.35, handletextpad=0.4,
                     columnspacing=1.9, labelspacing=0.4),
         note=["最深河床高は安定している。"], note_xy=(873, 334), note_size=13,
         ylabel_y=211, xlabel_y=458),
    dict(title="由良川　河口から21.0km",
         data=[P2_S57, P2_H2, P2_H10, P2_H14, P2_H16, P2_H20, P2_H25, P2_H29, P2_R3],
         rect=[72, 509, 1180, 880], xlim=(-300, 400), ylim=(-8, 16),
         xticks=list(range(-300, 401, 100)), yticks=[-8, -3, 2, 7, 12],
         zero_ticks=[-200, -100, 100, 200, 300], title_x=112,
         legend=dict(order=[0, 2, 4, 6, 8, 1, 3, 5, 7], ncol=2, anchor_px=(137, 652),
                     box_px=(97, 643, 591, 829), handlelength=2.45, handletextpad=0.32,
                     columnspacing=3.55, labelspacing=0.7),
         note=["平成10年～平成14年の間に低水路の拡幅工事が",
               "実施されたことで平成16年時点までは最深河床",
               "高が上昇しているが、その後は安定している。"],
         note_xy=(868, 792), note_size=13.3, ylabel_y=693, xlabel_y=949),
    dict(title="由良川　河口から36.6km",
         data=[P3_S57, P3_H2, P3_H10, P3_H14, P3_H16, P3_H20, P3_H25, P3_H29, P3_R3],
         rect=[72, 1001, 1178, 1371], xlim=(-400, 300), ylim=(8, 24),
         xticks=list(range(-400, 301, 100)), yticks=list(range(8, 25, 2)),
         zero_ticks=None, title_x=112,
         legend=dict(order=[0, 3, 6, 1, 4, 7, 2, 5, 8], ncol=3, anchor_px=(444, 1019),
                     box_px=(422, 1010, 1054, 1113), handlelength=2.4, handletextpad=0.32,
                     columnspacing=1.9, labelspacing=0.56),
         note=["経年的に最深河床高は低下傾向にある。"], note_xy=(762, 1307), note_size=13,
         ylabel_y=1188, xlabel_y=1441),
]

W, H = 1274, 1451
PALETTE = dict(zip(SERIES, COLORS))

sns.set_style("white")
plt.rcParams["font.family"] = ["Noto Sans CJK JP", "DejaVu Sans"]
plt.rcParams["axes.unicode_minus"] = True

fig = plt.figure(figsize=(W / 100, H / 100), dpi=100)


def long_frame(series_points):
    rows = []
    for name, pts in zip(SERIES, series_points):
        for x, y in pts:
            rows.append((name, x, y))
    return pd.DataFrame(rows, columns=["series", "x", "y"])


for p in PANELS:
    x0, y0, x1, y1 = p["rect"]
    ax = fig.add_axes([x0 / W, 1 - y1 / H, (x1 - x0) / W, (y1 - y0) / H])
    ax.set_xlim(*p["xlim"])
    ax.set_ylim(*p["ylim"])

    df = long_frame(p["data"])
    thin = df[df["series"] != SERIES[-1]]
    levels = [s for s in SERIES[:-1] if s in set(thin["series"])]
    sns.lineplot(data=thin, x="x", y="y", hue="series", hue_order=levels, palette=PALETTE,
                 sort=False, estimator=None, legend=False, linewidth=1.5, ax=ax)
    sns.lineplot(data=df[df["series"] == SERIES[-1]], x="x", y="y", color=COLORS[-1],
                 sort=False, estimator=None, legend=False, linewidth=2.2, ax=ax)
    ax.set_xlabel("")
    ax.set_ylabel("")

    # grid, frame and axis crossing lines
    ax.set_yticks(p["yticks"])
    ax.set_xticks(p["xticks"])
    ax.set_axisbelow(True)
    ax.yaxis.grid(True, color="black", linewidth=1.3)
    ax.xaxis.grid(False)
    for sp in ax.spines.values():
        sp.set_visible(True)
        sp.set_color("black")
        sp.set_linewidth(1.6)
    ax.axvline(0, color="black", linewidth=1.4, zorder=0.8)
    ax.tick_params(axis="y", length=0, pad=9, labelsize=13.5)
    if p["zero_ticks"] is not None:
        ax.tick_params(axis="x", length=0, pad=11, labelsize=13.5)
        sec = ax.secondary_xaxis(0, transform=ax.transData)
        sec.set_xticks(p["zero_ticks"])
        sec.tick_params(axis="x", direction="in", length=5, width=1.3,
                        labelbottom=False, bottom=True)
        sec.spines["bottom"].set_linewidth(1.4)
    else:
        ax.tick_params(axis="x", direction="in", length=5, width=1.3, pad=11, labelsize=13.5)

    # legend with its own box
    lg = p["legend"]
    bx0, by0, bx1, by1 = lg["box_px"]
    ax.add_patch(Rectangle(((bx0 - x0) / (x1 - x0), (y1 - by1) / (y1 - y0)),
                           (bx1 - bx0) / (x1 - x0), (by1 - by0) / (y1 - y0),
                           transform=ax.transAxes, facecolor="white", edgecolor="black",
                           linewidth=1.4, zorder=5, clip_on=False))
    handles = [Line2D([], [], color=COLORS[i], linewidth=2.2 if i == 8 else 1.6)
               for i in lg["order"]]
    labels = [SERIES[i] for i in lg["order"]]
    ax_anchor = ((lg["anchor_px"][0] - x0) / (x1 - x0), (y1 - lg["anchor_px"][1]) / (y1 - y0))
    leg = ax.legend(handles, labels, ncol=lg["ncol"], loc="upper left", bbox_to_anchor=ax_anchor,
                    borderaxespad=0, borderpad=0, frameon=False, fontsize=15.5,
                    handlelength=lg["handlelength"], handletextpad=lg["handletextpad"],
                    columnspacing=lg["columnspacing"], labelspacing=lg["labelspacing"])
    leg.set_zorder(6)

    # section title on the top frame line
    ax.text((p["title_x"] - x0) / (x1 - x0), 1.0, p["title"], transform=ax.transAxes,
            ha="left", va="center", fontsize=15.7, zorder=7, clip_on=False,
            bbox=dict(boxstyle="square,pad=0.38", facecolor="white", edgecolor="black",
                      linewidth=1.4))

    # notes and axis titles
    nx, ny = p["note_xy"]
    for k, line in enumerate(p["note"]):
        fig.text(nx / W, 1 - (ny + 32 * k) / H, line, ha="left", va="center",
                 fontsize=p["note_size"])
    fig.text(20 / W, 1 - p["ylabel_y"] / H, "標高（m）", rotation=90, ha="center",
             va="center", fontsize=13.5)
    fig.text(566 / W, 1 - p["xlabel_y"] / H, "横断距離（m）", ha="center", va="center",
             fontsize=14)

fig.savefig("out.png", dpi=100)
